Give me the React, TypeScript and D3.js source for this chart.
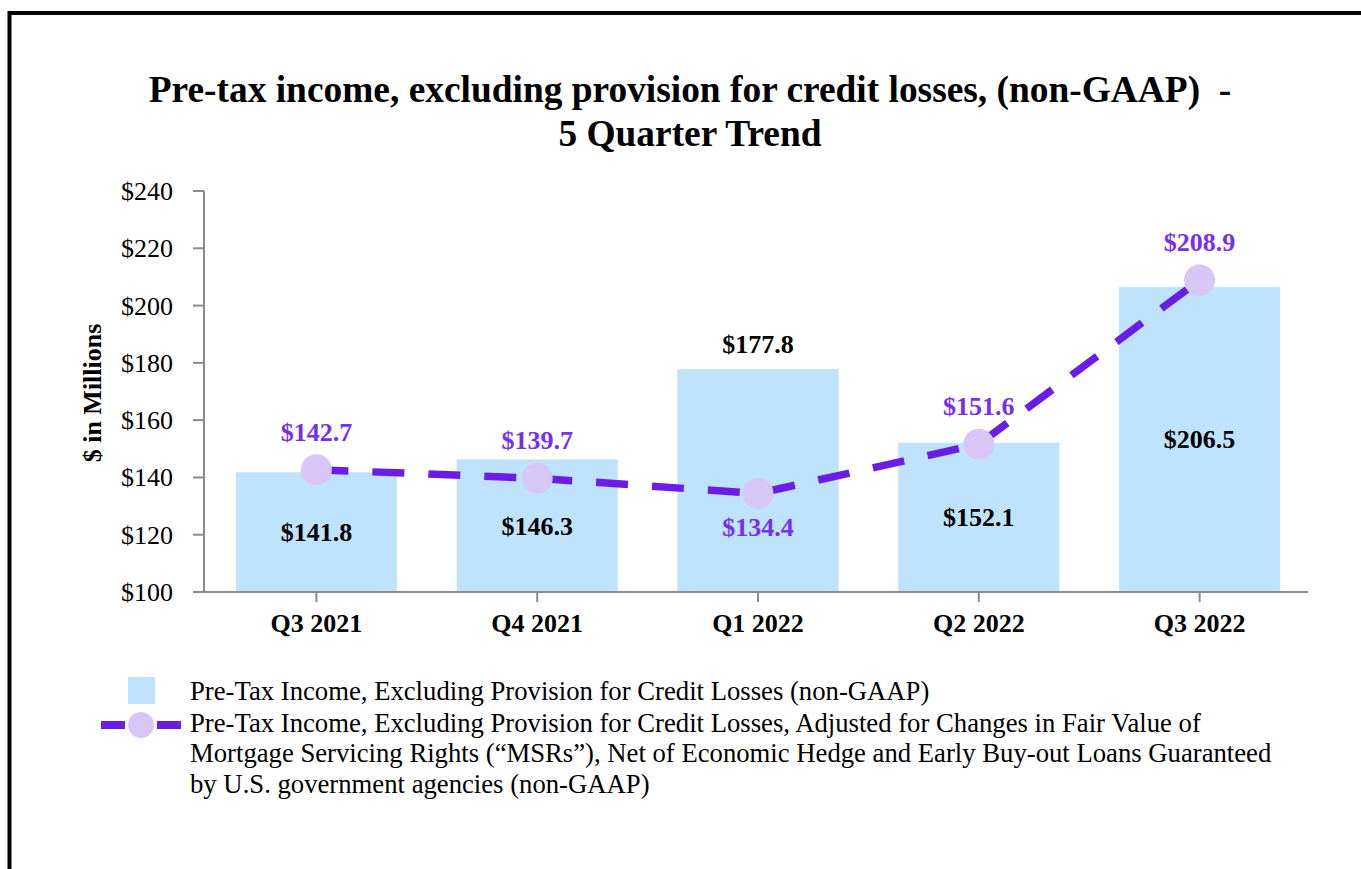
import React from "react";
import * as d3 from "d3";

const categories = ["Q3 2021", "Q4 2021", "Q1 2022", "Q2 2022", "Q3 2022"];
const barValues = [141.8, 146.3, 177.8, 152.1, 206.5];
const lineValues = [142.7, 139.7, 134.4, 151.6, 208.9];
const yTicks = [100, 120, 140, 160, 180, 200, 220, 240];
const barLabelAbove = [false, false, true, false, false];
const lineLabelBelow = [false, false, true, false, false];
const titleLines = [
  "Pre-tax income, excluding provision for credit losses, (non-GAAP)  -",
  "5 Quarter Trend",
];
const legendBarText = "Pre-Tax Income, Excluding Provision for Credit Losses (non-GAAP)";
const legendLineText = [
  "Pre-Tax Income, Excluding Provision for Credit Losses, Adjusted for Changes in Fair Value of",
  "Mortgage Servicing Rights (\u201CMSRs\u201D), Net of Economic Hedge and Early Buy-out Loans Guaranteed",
  "by U.S. government agencies (non-GAAP)",
];

const FONT = "'Liberation Serif', 'Times New Roman', serif";
const BAR = "#bfe3fc";
const LINE = "#6a1de6";
const LABEL = "#7430ec";
const MARKER = "#d8c6f6";
const AXIS = "#8c8c8c";

export default function App() {
  const W = 1361, H = 869;
  const x = d3.scaleBand<string>().domain(categories).range([206, 1310]).paddingInner(0.27).paddingOuter(0.135);
  const y = d3.scaleLinear().domain([100, 240]).range([592, 191]);
  const cx = (c: string) => (x(c) as number) + x.bandwidth() / 2;
  const lineGen = d3
    .line<number>()
    .x((_, i) => cx(categories[i]))
    .y((d) => y(d))
    .curve(d3.curveLinear);

  return (
    <svg width={W} height={H} style={{ position: "absolute", left: 0, top: 0, background: "#fff" }} fontFamily={FONT}>
      <rect x={9.5} y={13} width={1500} height={1000} fill="none" stroke="#000" strokeWidth={4} />
      {titleLines.map((t, i) => (
        <text key={i} x={690} y={102 + i * 44} textAnchor="middle" fontSize={37.4} fontWeight="bold" fill="#000" style={{ whiteSpace: "pre" }}>
          {t}
        </text>
      ))}
      {/* bars */}
      {barValues.map((v, i) => (
        <rect key={i} x={x(categories[i])} y={y(v)} width={x.bandwidth()} height={y(100) - y(v)} fill={BAR} />
      ))}
      {/* axes */}
      <line x1={204} x2={204} y1={y(240)} y2={y(100)} stroke={AXIS} strokeWidth={2} />
      {yTicks.map((t) => (
        <g key={t}>
          <line x1={193} x2={204} y1={y(t)} y2={y(t)} stroke={AXIS} strokeWidth={2} />
          <text x={173} y={y(t) + 9} textAnchor="end" fontSize={26} fill="#000">
            {"$" + t}
          </text>
        </g>
      ))}
      <line x1={203} x2={1308} y1={y(100)} y2={y(100)} stroke={AXIS} strokeWidth={2} />
      {categories.map((c) => (
        <g key={c}>
          <line x1={cx(c)} x2={cx(c)} y1={y(100)} y2={y(100) + 10} stroke={AXIS} strokeWidth={2} />
          <text x={cx(c)} y={632} textAnchor="middle" fontSize={26} fontWeight="bold" fill="#000">
            {c}
          </text>
        </g>
      ))}
      <text transform={`translate(101,393) rotate(-90)`} textAnchor="middle" fontSize={26} fontWeight="bold" fill="#000">
        $ in Millions
      </text>
      {/* bar labels */}
      {barValues.map((v, i) => (
        <text
          key={i}
          x={cx(categories[i])}
          y={barLabelAbove[i] ? y(v) - 16 : (y(v) + y(100)) / 2 + 9}
          textAnchor="middle"
          fontSize={26}
          fontWeight="bold"
          fill="#000"
        >
          {"$" + v.toFixed(1)}
        </text>
      ))}
      {/* line */}
      <path d={lineGen(lineValues) || ""} fill="none" stroke={LINE} strokeWidth={7.5} strokeDasharray="32,24" />
      {lineValues.map((v, i) => (
        <circle key={i} cx={cx(categories[i])} cy={y(v)} r={15.5} fill={MARKER} />
      ))}
      {lineValues.map((v, i) => (
        <text
          key={i}
          x={cx(categories[i])}
          y={lineLabelBelow[i] ? y(v) + 42.5 : y(v) - 29}
          textAnchor="middle"
          fontSize={26}
          fontWeight="bold"
          fill={LABEL}
        >
          {"$" + v.toFixed(1)}
        </text>
      ))}
      {/* legend */}
      <rect x={128} y={677} width={27} height={27} fill={BAR} />
      <line x1={101} x2={181} y1={725} y2={725} stroke={LINE} strokeWidth={8} strokeDasharray="24,32,24" />
      <circle cx={141} cy={725} r={13} fill={MARKER} />
      <text x={190} y={700} fontSize={26.7} fill="#000">
        {legendBarText}
      </text>
      {legendLineText.map((t, i) => (
        <text key={i} x={190} y={731.5 + i * 30.5} fontSize={26.7} fill="#000">
          {t}
        </text>
      ))}
    </svg>
  );
}
